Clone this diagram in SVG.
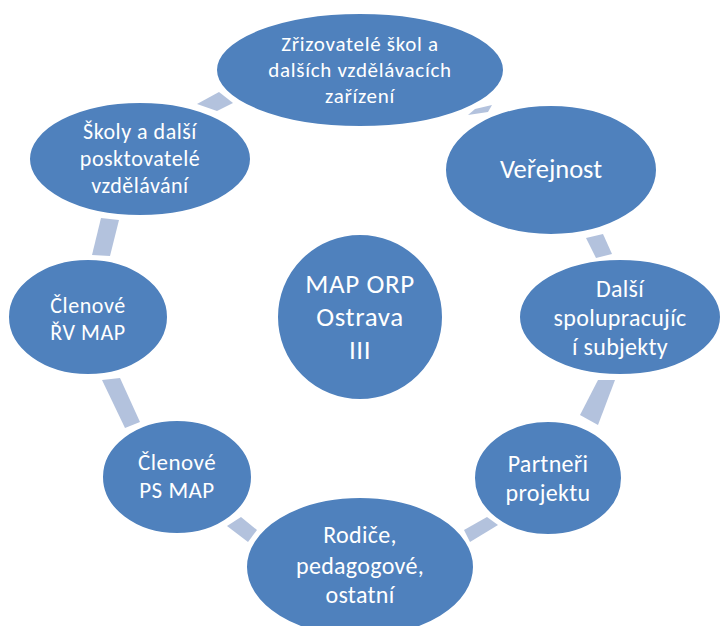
<svg xmlns="http://www.w3.org/2000/svg" width="721" height="626" viewBox="0 0 721 626">
<style>
.n{fill:#4F81BD;stroke:#FFFFFF;stroke-width:2}
.c{fill:#B3C2DD;stroke:none}
text{font-family:"Carlito","Lato","Liberation Sans",sans-serif;fill:#FFFFFF;text-anchor:middle}
</style>
<rect width="721" height="626" fill="#FFFFFF"/>
<g id="connectors">
<polygon class="c" points="197,104 219,92 233,103 217,111"/>
<polygon class="c" points="468,115 475,109 492,105 488,112"/>
<polygon class="c" points="586,238 603,234 612,254 596,258"/>
<polygon class="c" points="598,380 615,380 598,425 580,415"/>
<polygon class="c" points="464,530 487,517 498,525 470,542"/>
<polygon class="c" points="227,526 241,517 257,530 248,542"/>
<polygon class="c" points="102,380 120,378 140,422 125,428"/>
<polygon class="c" points="101,218 119,220 110,256 92,255"/>
</g>
<g id="node-zrizovatele">
<ellipse class="n" cx="360" cy="70" rx="144" ry="57"/>
<text font-size="21" letter-spacing="0.7"><tspan x="360" y="51">Zřizovatelé škol a</tspan><tspan x="360" y="77">dalších vzdělávacích</tspan><tspan x="360" y="103">zařízení</tspan></text>
</g>
<g id="node-verejnost">
<ellipse class="n" cx="551" cy="170" rx="106" ry="65"/>
<text font-size="26.5"><tspan x="551" y="178">Veřejnost</tspan></text>
</g>
<g id="node-dalsi">
<ellipse class="n" cx="620" cy="317" rx="101" ry="58"/>
<text font-size="24" letter-spacing="0.3"><tspan x="620" y="297">Další</tspan><tspan x="620" y="326">spolupracujíc</tspan><tspan x="620" y="355">í subjekty</tspan></text>
</g>
<g id="node-partneri">
<ellipse class="n" cx="548" cy="478" rx="74" ry="57"/>
<text font-size="24" letter-spacing="0.3"><tspan x="548" y="472">Partneři</tspan><tspan x="548" y="501">projektu</tspan></text>
</g>
<g id="node-rodice">
<ellipse class="n" cx="360" cy="567" rx="114" ry="70"/>
<text font-size="24" letter-spacing="0.3"><tspan x="360" y="543">Rodiče,</tspan><tspan x="360" y="574">pedagogové,</tspan><tspan x="360" y="603">ostatní</tspan></text>
</g>
<g id="node-ps">
<ellipse class="n" cx="177" cy="477" rx="75" ry="57"/>
<text font-size="23" letter-spacing="0.5"><tspan x="177" y="470">Členové</tspan><tspan x="177" y="498">PS MAP</tspan></text>
</g>
<g id="node-rv">
<ellipse class="n" cx="88" cy="317" rx="80" ry="58"/>
<text font-size="22" letter-spacing="0.6"><tspan x="88" y="313">Členové</tspan><tspan x="88" y="340">ŘV MAP</tspan></text>
</g>
<g id="node-skoly">
<ellipse class="n" cx="140" cy="159" rx="111" ry="57"/>
<text font-size="22" letter-spacing="0.5"><tspan x="140" y="139">Školy a další</tspan><tspan x="140" y="166">posktovatelé</tspan><tspan x="140" y="193">vzdělávání</tspan></text>
</g>
<g id="node-center">
<ellipse class="n" cx="360" cy="317" rx="83" ry="83"/>
<text font-size="27" letter-spacing="0.6"><tspan x="360" y="293">MAP ORP</tspan><tspan x="360" y="326">Ostrava</tspan><tspan x="360" y="359">III</tspan></text>
</g>
</svg>
